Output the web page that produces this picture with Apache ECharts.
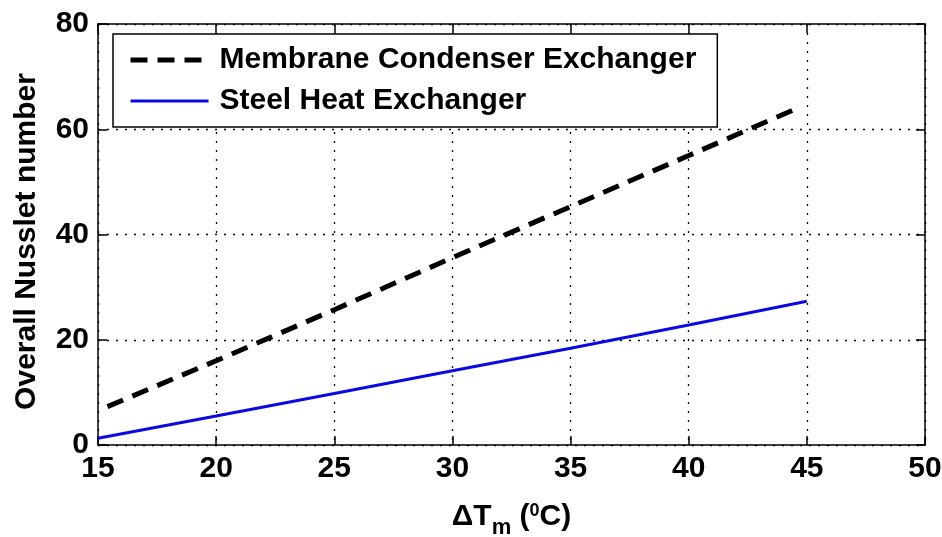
<!DOCTYPE html>
<html><head><meta charset="utf-8">
<script src="https://cdn.jsdelivr.net/npm/echarts@6/dist/echarts.min.js"></script>
<style>html,body{margin:0;padding:0;background:#fff}#c{width:942px;height:537px}</style>
</head><body><div id="c"></div>
<script>
const seriesNames = ['Membrane Condenser Exchanger', 'Steel Heat Exchanger'];
const membraneX = [15.4, 20, 25, 30, 35, 40, 44.6];
const membraneY = [7.3, 16.0, 25.7, 35.6, 45.3, 55.0, 64.0];
const steelX = [15, 20, 25, 30, 35, 40, 45];
const steelY = [1.3, 5.5, 9.8, 14.1, 18.4, 22.8, 27.3];
const xTicks = [15, 20, 25, 30, 35, 40, 45, 50];
const yTicks = [0, 20, 40, 60, 80];

const FONT = '"Liberation Sans", Arial, sans-serif';
const FS = 30;
const chart = echarts.init(document.getElementById('c'), null, {renderer: 'canvas'});
const zip = (xs, ys) => xs.map((x, i) => [x, ys[i]]);
const axisLineStyle = {color: '#000', width: 1.5};
const tickStyle = {show: true, inside: true, length: 9, lineStyle: {color: '#000', width: 1.5}};
const membraneLine = {color: '#000', width: 5, type: [17, 10]};
const steelLine = {color: '#0a0ae0', width: 3};
chart.setOption({
  animation: false,
  backgroundColor: '#fff',
  grid: {left: 98, right: 17, top: 24, bottom: 92, containLabel: false, outerBoundsMode: 'none'},
  xAxis: [{
    type: 'value', min: xTicks[0], max: xTicks[xTicks.length - 1], interval: 5,
    position: 'bottom',
    axisLine: {show: true, onZero: false, lineStyle: axisLineStyle},
    axisTick: tickStyle,
    axisLabel: {color: '#000', fontFamily: FONT, fontSize: FS, fontWeight: 'bold', margin: 9},
    splitLine: {show: true, lineStyle: {color: '#000', type: [2, 7], width: 1.3}},
    name: '{a|ΔT}{s|m}{a| (}{p|0}{a|C)}',
    nameLocation: 'middle', nameGap: 50,
    nameTextStyle: {
      color: '#000', fontFamily: FONT,
      rich: {
        a: {fontSize: FS, fontFamily: FONT, fontWeight: 'bold', color: '#000'},
        s: {fontSize: 22, fontFamily: FONT, fontWeight: 'bold', color: '#000', padding: [22, 0, 0, 0]},
        p: {fontSize: 18, fontFamily: FONT, fontWeight: 'bold', color: '#000', padding: [0, 0, 12, 0]}
      }
    }
  }, {
    type: 'value', min: xTicks[0], max: xTicks[xTicks.length - 1], interval: 5,
    position: 'top',
    axisLine: {show: true, onZero: false, lineStyle: axisLineStyle},
    axisTick: tickStyle,
    axisLabel: {show: false}, splitLine: {show: false}
  }],
  yAxis: [{
    type: 'value', min: yTicks[0], max: yTicks[yTicks.length - 1], interval: 20,
    position: 'left',
    axisLine: {show: true, onZero: false, lineStyle: axisLineStyle},
    axisTick: tickStyle,
    axisLabel: {color: '#000', fontFamily: FONT, fontSize: FS, fontWeight: 'bold', margin: 9},
    splitLine: {show: true, lineStyle: {color: '#000', type: [2, 7], width: 1.3}},
    name: 'Overall Nusslet number', nameLocation: 'middle', nameGap: 56,
    nameTextStyle: {color: '#000', fontFamily: FONT, fontSize: FS, fontWeight: 'bold', padding: [0, 14, 0, 0]}
  }, {
    type: 'value', min: yTicks[0], max: yTicks[yTicks.length - 1], interval: 20,
    position: 'right',
    axisLine: {show: true, onZero: false, lineStyle: axisLineStyle},
    axisTick: tickStyle,
    axisLabel: {show: false}, splitLine: {show: false}
  }],
  legend: {
    show: true, orient: 'vertical', left: 113, top: 34,
    padding: [11, 21, 11, 15],
    backgroundColor: '#fff', borderColor: '#000', borderWidth: 1.5, borderRadius: 0,
    itemWidth: 78, itemHeight: 20, itemGap: 11,
    itemStyle: {opacity: 0},
    textStyle: {color: '#000', fontFamily: FONT, fontSize: FS, fontWeight: 'bold', lineHeight: 30, padding: [0, 0, 0, 6]},
    data: [
      {name: seriesNames[0], lineStyle: {width: 5, type: [17, 10], color: '#000'}},
      {name: seriesNames[1], lineStyle: {width: 3, color: '#0a0ae0'}}
    ]
  },
  series: [{
    name: seriesNames[0], type: 'line', data: zip(membraneX, membraneY),
    showSymbol: false, symbol: 'none', smooth: false,
    lineStyle: membraneLine,
    itemStyle: {color: '#000'}, z: 3
  }, {
    name: seriesNames[1], type: 'line', data: zip(steelX, steelY),
    showSymbol: false, symbol: 'none', smooth: false,
    lineStyle: steelLine,
    itemStyle: {color: '#0a0ae0'}, z: 3
  }]
});
</script></body></html>
